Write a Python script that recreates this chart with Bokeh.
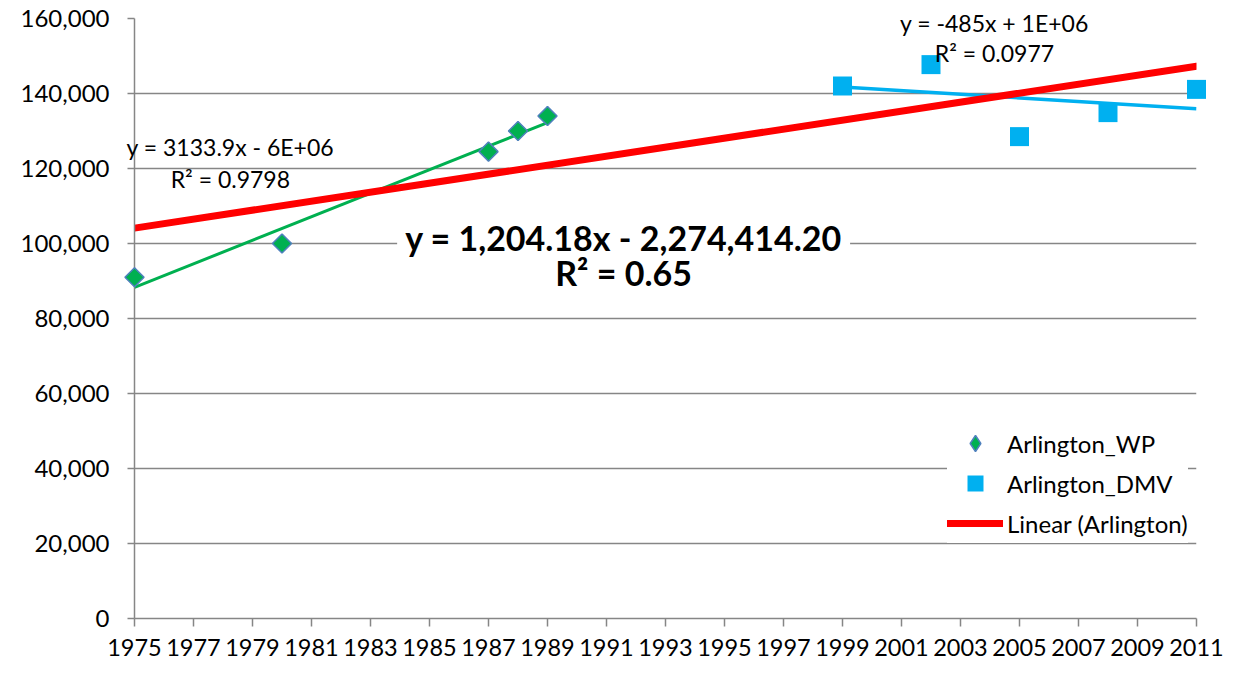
import numpy as np
from bokeh.plotting import figure
from bokeh.models import Range1d, FixedTicker, NumeralTickFormatter, Label, Legend, LegendItem
from bokeh.core.properties import value
from bokeh.embed import file_html
from bokeh.resources import INLINE

# ---- data ----
wp_years = [1975, 1980, 1987, 1988, 1989]
wp_values = [91000, 100000, 124500, 130000, 134000]
dmv_years = [1999, 2002, 2005, 2008, 2011]
dmv_values = [142000, 147700, 128500, 134900, 141100]
x_ticks = [1975, 1977, 1979, 1981, 1983, 1985, 1987, 1989, 1991, 1993,
           1995, 1997, 1999, 2001, 2003, 2005, 2007, 2009, 2011]
y_ticks = [0, 20000, 40000, 60000, 80000, 100000, 120000, 140000, 160000]
wp_eq = ["y = 3133.9x - 6E+06", "R\u00b2 = 0.9798"]
dmv_eq = ["y = -485x + 1E+06", "R\u00b2 = 0.0977"]
all_eq = ["y = 1,204.18x - 2,274,414.20", "R\u00b2 = 0.65"]
series_names = ["Arlington_WP", "Arlington_DMV", "Linear (Arlington)"]

FONT = "Lato"
GRID = "#868686"
GREEN = "#00B050"
BLUE = "#00B0F0"
OUTLINE = "#4F81BD"


def trend(xs, ys):
    m, b = np.polyfit(xs, ys, 1)
    x0, x1 = min(xs), max(xs)
    return [x0, x1], [m * x0 + b, m * x1 + b]


p = figure(width=1233, height=665, output_backend="svg", toolbar_location=None,
           x_range=Range1d(1975, 2011), y_range=Range1d(0, 160000),
           min_border_left=134, min_border_right=37, min_border_top=18,
           min_border_bottom=47)
p.outline_line_color = None
p.background_fill_color = "white"
p.border_fill_color = "white"

p.xgrid.grid_line_color = None
p.ygrid.grid_line_color = GRID
p.ygrid.grid_line_width = 1.5

p.xaxis.ticker = FixedTicker(ticks=x_ticks)
p.yaxis.ticker = FixedTicker(ticks=y_ticks)
p.yaxis.formatter = NumeralTickFormatter(format="0,0")
for ax in p.axis:
    ax.axis_line_color = GRID
    ax.axis_line_width = 1.5
    ax.major_tick_line_color = GRID
    ax.major_tick_line_width = 1.5
    ax.major_tick_in = 0
    ax.minor_tick_line_color = None
    ax.major_label_text_font = FONT
    ax.major_label_text_color = "black"
p.xaxis.major_label_text_font_size = "23.5px"
p.yaxis.major_label_text_font_size = "24px"
p.xaxis.major_tick_out = 8
p.xaxis.major_label_standoff = 12
p.yaxis.major_tick_out = 7
p.yaxis.major_label_standoff = 18

# trend lines
gx, gy = trend(wp_years, wp_values)
bx, by = trend(dmv_years, dmv_values)
rx, ry = trend(wp_years + dmv_years, wp_values + dmv_values)
p.line(gx, gy, line_color=GREEN, line_width=3)
p.line(bx, by, line_color=BLUE, line_width=3.5)
red = p.line(rx, ry, line_color="#FF0000", line_width=7, line_cap="round")

# legend swatch for the diamond series (legend ignores marker angle);
# drawn underneath the rotated squares so it stays hidden in the plot
wp_key = p.scatter(wp_years, wp_values, marker="diamond", size=18,
                   fill_color=GREEN, line_color=OUTLINE, line_width=1.5)
# markers
p.scatter(wp_years, wp_values, marker="square", angle=np.pi / 4, size=13.5,
          fill_color=GREEN, line_color=OUTLINE, line_width=1.5, level="overlay")
dmv = p.scatter(dmv_years, dmv_values, marker="square", size=19,
                fill_color=BLUE, line_color=BLUE, line_width=0, level="overlay")

# small equation labels
p.text(x=[1978.25, 1978.25], y=[125700, 117100], text=wp_eq,
       text_font=value(FONT), text_font_size="23px", text_color="black",
       text_align="center", text_baseline="middle", level="overlay")
p.text(x=[2004.15, 2004.15], y=[158700, 150700], text=dmv_eq,
       text_font=value(FONT), text_font_size="23px", text_color="black",
       text_align="center", text_baseline="middle", level="overlay")

# big equation label
p.add_layout(Label(x=1991.58, y=101600, text=all_eq[0], text_font=FONT,
                   text_font_size="34px", text_font_style="bold", text_color="black",
                   text_align="center", text_baseline="middle",
                   background_fill_color="white", background_fill_alpha=1.0,
                   padding=8))
p.add_layout(Label(x=1991.58, y=92200, text=all_eq[1], text_font=FONT,
                   text_font_size="34px", text_font_style="bold", text_color="black",
                   text_align="center", text_baseline="middle"))

legend = Legend(items=[LegendItem(label=series_names[0], renderers=[wp_key]),
                       LegendItem(label=series_names[1], renderers=[dmv]),
                       LegendItem(label=series_names[2], renderers=[red])],
                location=(813, 75), margin=0, padding=12, spacing=0,
                glyph_width=56, glyph_height=40, label_height=40,
                label_standoff=4, label_text_font=FONT,
                label_text_font_size="24px", label_text_color="black",
                background_fill_color="white", background_fill_alpha=1.0,
                border_line_color=None)
p.add_layout(legend, "center")

open("out.html", "w").write(file_html(p, INLINE))
